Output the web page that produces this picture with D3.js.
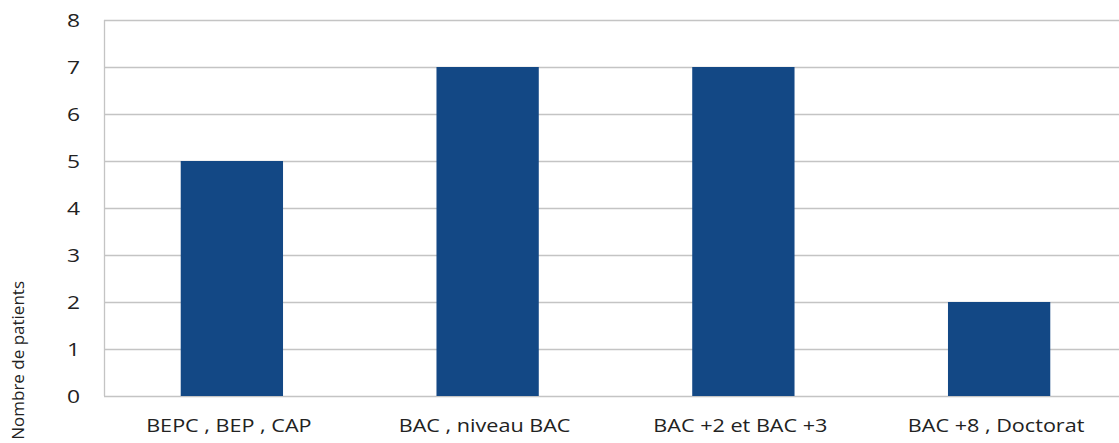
<!DOCTYPE html>
<html><head><meta charset="utf-8">
<script src="https://cdn.jsdelivr.net/npm/d3@7"></script>
<style>body{margin:0;background:#fff;overflow:hidden}svg{display:block}text{font-family:"Open Sans",sans-serif;fill:#222}</style>
</head><body><svg id="c" width="1119" height="443"></svg>
<script>
const categories = ["BEPC , BEP , CAP", "BAC , niveau BAC", "BAC +2 et BAC +3", "BAC +8 , Doctorat"];
const values = [5, 7, 7, 2];
const yTicks = [0, 1, 2, 3, 4, 5, 6, 7, 8];
const yLabel = "Nombre de patients";

const svg = d3.select("#c");
const W = 1119, H = 443;
const m = {left: 104, top: 20, bottom: 47};
const x = d3.scaleBand().domain(categories).range([m.left, 1127]).paddingInner(0.6).paddingOuter(0.3);
const y = d3.scaleLinear().domain([0, 8]).range([H - m.bottom, m.top]);

svg.append("g").selectAll("line").data(yTicks).join("line")
  .attr("x1", m.left).attr("x2", W).attr("y1", d => y(d) + 0.5).attr("y2", d => y(d) + 0.5)
  .attr("stroke", "#c4c4c4").attr("stroke-width", 1.3);
svg.append("line").attr("x1", m.left + 0.5).attr("x2", m.left + 0.5).attr("y1", y(8)).attr("y2", y(0))
  .attr("stroke", "#c4c4c4").attr("stroke-width", 1.3);

svg.append("g").selectAll("rect").data(values).join("rect")
  .attr("x", (d, i) => x(categories[i])).attr("width", x.bandwidth())
  .attr("y", d => y(d)).attr("height", d => y(0) - y(d)).attr("fill", "#134885");

svg.append("g").selectAll("text").data(yTicks).join("text")
  .attr("x", 80).attr("y", d => y(d)).attr("dy", "0.35em").attr("text-anchor", "end")
  .attr("font-size", 19).text(d => d)
  .each(function() {
    const len = this.getComputedTextLength();
    d3.select(this).attr("textLength", len * 1.2).attr("lengthAdjust", "spacingAndGlyphs");
  });

svg.append("g").selectAll("text").data(categories).join("text")
  .attr("x", d => x(d) + x.bandwidth() / 2 - 3).attr("y", 432).attr("text-anchor", "middle")
  .attr("font-size", 18).text(d => d)
  .each(function() {
    const len = this.getComputedTextLength();
    d3.select(this).attr("textLength", len * 1.2).attr("lengthAdjust", "spacingAndGlyphs");
  });

svg.append("text").attr("transform", "translate(24,281) rotate(-90)").attr("text-anchor", "end")
  .attr("font-size", 17).text(yLabel);
</script></body></html>
